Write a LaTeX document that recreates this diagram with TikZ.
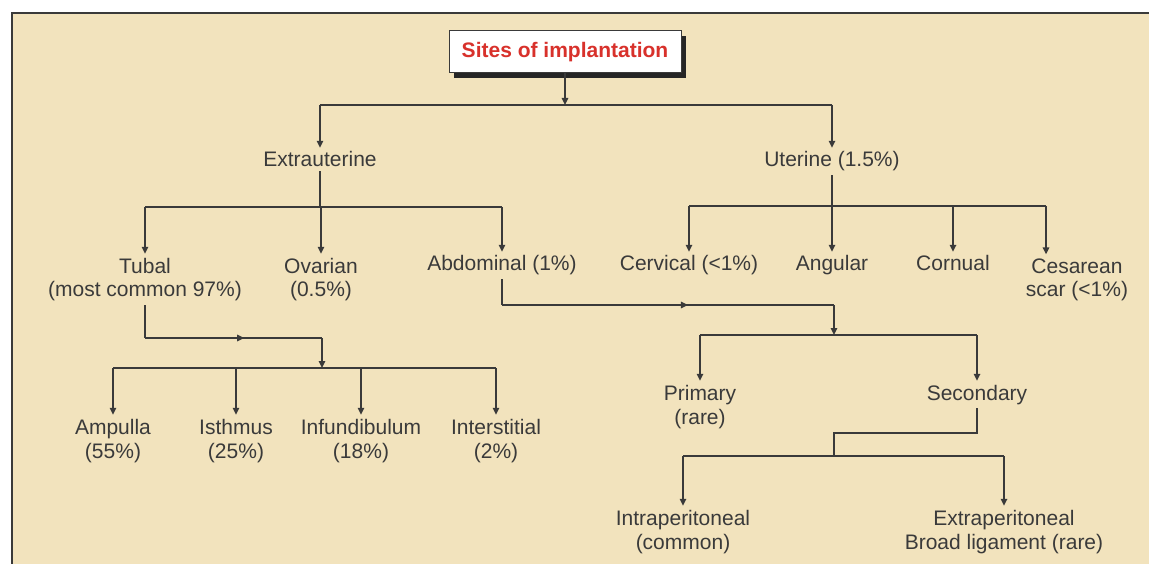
\documentclass[tikz,border=0pt]{standalone}
\usepackage{fontspec}
\setmainfont{Liberation Sans}
\usetikzlibrary{arrows.meta,decorations.markings,shadows}
\definecolor{paper}{HTML}{F2E3BD}
\definecolor{ink}{HTML}{3A3A3A}
\definecolor{titlered}{HTML}{D8312B}
\tikzset{
  site/.style={align=center, anchor=base, inner sep=0pt, outer sep=4pt,
    text=ink, font=\fontsize{21}{24}\selectfont},
  title/.style={draw=ink, line width=1pt, fill=white, minimum width=232pt,
    minimum height=42pt, inner sep=0pt, text=titlered,
    font=\fontsize{21}{24}\selectfont\bfseries,
    drop shadow={shadow xshift=5pt, shadow yshift=-5pt, opacity=1, fill=black!85}},
  link/.style={draw=ink, line width=1.5pt},
  arr/.style={link, -{Triangle[length=7pt,width=6.5pt]}},
  midarr/.style={decoration={markings,
    mark=at position 0.56 with {\arrow{Triangle[length=7pt,width=6.5pt]}}},postaction={decorate}}}

\begin{document}
\begin{tikzpicture}[x=1pt,y=-1pt]
  \useasboundingbox (0,0) rectangle (1149,564);
  \fill[paper] (12,13) rectangle (1149,564);
  \draw[ink, line width=2.5pt] (12,564) -- (12,13) -- (1149,13);

  \node[title] (sites) at (565,52) {Sites of implantation};

  % first level (base of last line)
  \node[site] (extra) at (320,167) {Extrauterine};
  \node[site] (uter) at (832,167) {Uterine (1.5\%)};

  % extrauterine sites
  \node[site] (tubal) at (145,297) {Tubal\\(most common 97\%)};
  \node[site] (ovar) at (321,297) {Ovarian\\(0.5\%)};
  \node[site] (abdo) at (502,271) {Abdominal (1\%)};

  % uterine sites
  \node[site] (cerv) at (689,271) {Cervical (<1\%)};
  \node[site] (angul) at (832,271) {Angular};
  \node[site] (corn) at (953,271) {Cornual};
  \node[site] (cesar) at (1077,297) {Cesarean\\scar (<1\%)};

  % tubal parts
  \node[site] (ampul) at (113,458) {Ampulla\\(55\%)};
  \node[site] (isth) at (236,458) {Isthmus\\(25\%)};
  \node[site] (infun) at (361,458) {Infundibulum\\(18\%)};
  \node[site] (inter) at (496,458) {Interstitial\\(2\%)};

  % abdominal kinds
  \node[site] (prim) at (700,424) {Primary\\(rare)};
  \node[site] (second) at (977,400) {Secondary};
  \node[site] (intra) at (683,549) {Intraperitoneal\\(common)};
  \node[site] (extrap) at (1004,549) {Extraperitoneal\\Broad ligament (rare)};

  % junctions
  \coordinate (b0) at (565,105);
  \coordinate (b1) at (320,207);
  \coordinate (b2) at (832,206);
  \coordinate (cesdrop) at (1046,206);
  \coordinate (t1) at (145,338);
  \coordinate (b3) at (322,368);
  \coordinate (a1) at (502,305);
  \coordinate (b4) at (834,335);
  \coordinate (s1) at (834,433);
  \coordinate (b5) at (834,456);

  % title to first level
  \draw[arr] (sites) -- (b0);
  \draw[link] (b0 -| extra) -- (b0 -| uter);
  \draw[arr] (b0 -| extra) -- (extra);
  \draw[arr] (b0 -| uter) -- (uter);

  % extrauterine
  \draw[link] (extra) -- (b1);
  \draw[link] (b1 -| tubal) -- (b1 -| abdo);
  \foreach \n in {tubal,ovar,abdo}
    \draw[arr] (b1 -| \n) -- (\n);

  % uterine
  \draw[arr] (uter) -- (angul);
  \draw[link] (b2 -| cerv) -- (cesdrop);
  \draw[arr] (b2 -| cerv) -- (cerv);
  \draw[arr] (b2 -| corn) -- (corn);
  \draw[arr] (cesdrop) -- (cesdrop |- cesar.north);

  % tubal
  \draw[link] (tubal) -- (t1);
  \draw[link, midarr] (t1) -- (t1 -| b3);
  \draw[arr] (t1 -| b3) -- (b3);
  \draw[link] (b3 -| ampul) -- (b3 -| inter);
  \foreach \n in {ampul,isth,infun,inter}
    \draw[arr] (b3 -| \n) -- (\n);

  % abdominal
  \draw[link] (abdo) -- (a1);
  \draw[link, midarr] (a1) -- (a1 -| b4);
  \draw[arr] (a1 -| b4) -- (b4);
  \draw[link] (b4 -| prim) -- (b4 -| second);
  \draw[arr] (b4 -| prim) -- (prim);
  \draw[arr] (b4 -| second) -- (second);

  % secondary
  \draw[link] (second) -- (second |- s1) -- (s1) -- (b5);
  \draw[link] (b5 -| intra) -- (b5 -| extrap);
  \draw[arr] (b5 -| intra) -- (intra);
  \draw[arr] (b5 -| extrap) -- (extrap);
\end{tikzpicture}
\end{document}
